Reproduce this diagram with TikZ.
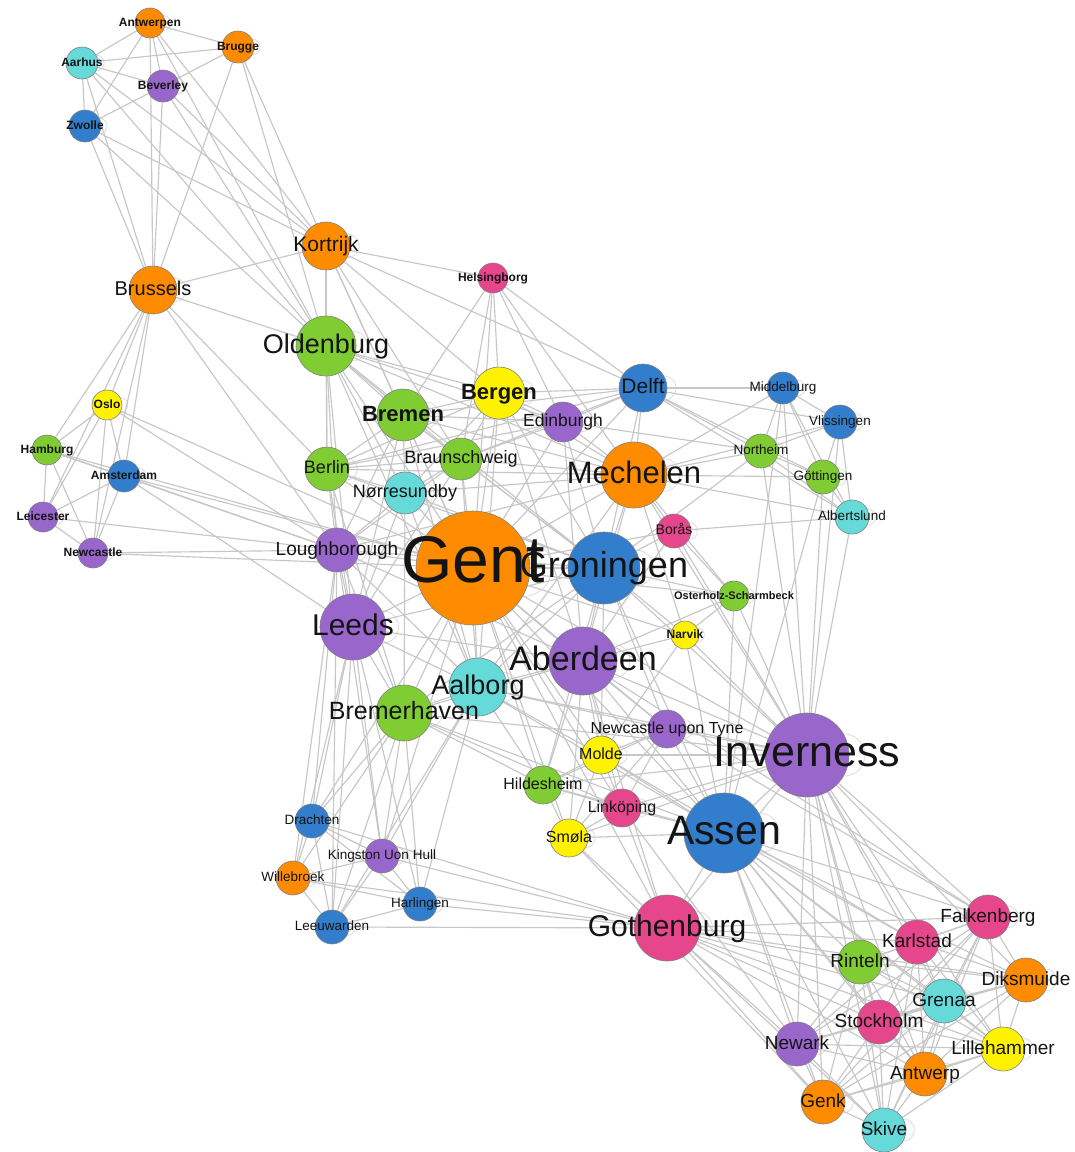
\documentclass[tikz,border=0pt]{standalone}
\usepackage{fontspec}
\setmainfont{Liberation Sans}
\pgfdeclarelayer{bg}
\pgfsetlayers{bg,main}
\definecolor{cOr}{RGB}{255,140,0}
\definecolor{cBl}{RGB}{50,126,204}
\definecolor{cPu}{RGB}{153,102,204}
\definecolor{cGr}{RGB}{127,204,51}
\definecolor{cCy}{RGB}{102,217,217}
\definecolor{cYe}{RGB}{255,242,0}
\definecolor{cPi}{RGB}{230,70,140}
\tikzset{
  city/.style={circle,draw=black!50,line width=0.6pt,inner sep=0pt},
  edge/.style={draw=black!22,line width=1.15pt},
  loopc/.style={draw=black!12,line width=0.9pt},
  lab/.style={inner sep=0pt,anchor=base,text=black!92}
}
\newcommand\nd[5]{%
  \node[city,minimum size={2*#4pt},fill=#5] (#1) at (#2,#3) {};
  \begin{pgfonlayer}{bg}\draw[loopc] ({#2+0.88*#4},#3) circle[radius={0.5*#4pt}];\end{pgfonlayer}}
\newcommand\lb[3]{\node[lab,font=\fontsize{#2}{#2}\selectfont] (#1-l) at ([yshift={-0.27*#2pt}]#1.center) {#3};}
\newcommand\lbb[3]{\node[lab,font=\fontsize{#2}{#2}\selectfont\bfseries] (#1-l) at ([yshift={-0.3*#2pt}]#1.center) {#3};}
\begin{document}
\begin{tikzpicture}[x=1pt,y=-1pt]
\begin{pgfonlayer}{bg}
\fill[white] (0,0) rectangle (1075,1152);
\end{pgfonlayer}
\useasboundingbox (0,0) rectangle (1075,1152);
% nodes
\nd{antwerpen}{150}{23}{15}{cOr}
\nd{brugge}{238}{47}{16}{cOr}
\nd{aarhus}{82}{63}{16}{cCy}
\nd{beverley}{163}{86}{16}{cPu}
\nd{zwolle}{85}{126}{16}{cBl}
\nd{kortrijk}{326}{246}{24}{cOr}
\nd{brussels}{153}{290}{24}{cOr}
\nd{oldenburg}{326}{346}{30}{cGr}
\nd{helsingborg}{493}{278}{15}{cPi}
\nd{oslo}{107}{405}{15}{cYe}
\nd{hamburg}{47}{450}{15}{cGr}
\nd{amsterdam}{124}{476}{16}{cBl}
\nd{leicester}{43}{517}{15}{cPu}
\nd{newcastle}{93}{553}{15}{cPu}
\nd{berlin}{327}{469}{22}{cGr}
\nd{loughborough}{337}{550}{22}{cPu}
\nd{bergen}{499}{393}{26}{cYe}
\nd{bremen}{403}{415}{26}{cGr}
\nd{edinburgh}{563}{422}{20}{cPu}
\nd{delft}{643}{388}{24}{cBl}
\nd{braunschweig}{461}{459}{21}{cGr}
\nd{norre}{405}{493}{21}{cCy}
\nd{mechelen}{634}{475}{33}{cOr}
\nd{boras}{674}{531}{17}{cPi}
\nd{middelburg}{783}{388}{16}{cBl}
\nd{vlissingen}{840}{422}{17}{cBl}
\nd{northeim}{761}{451}{17}{cGr}
\nd{gottingen}{823}{477}{17}{cGr}
\nd{albertslund}{852}{517}{17}{cCy}
\nd{osterholz}{734}{596}{15}{cGr}
\nd{narvik}{685}{635}{14}{cYe}
\nd{gent}{473}{568}{57}{cOr}
\nd{groningen}{604}{568}{36}{cBl}
\nd{leeds}{353}{627}{33}{cPu}
\nd{aberdeen}{583}{661}{34}{cPu}
\nd{aalborg}{478}{687}{29}{cCy}
\nd{bremerhaven}{404}{713}{28}{cGr}
\nd{nut}{667}{729}{19}{cPu}
\nd{molde}{601}{755}{19}{cYe}
\nd{hildesheim}{543}{785}{19}{cGr}
\nd{drachten}{312}{821}{17}{cBl}
\nd{kingston}{382}{856}{17}{cPu}
\nd{willebroek}{293}{878}{17}{cOr}
\nd{harlingen}{420}{904}{17}{cBl}
\nd{leeuwarden}{332}{927}{17}{cBl}
\nd{smola}{569}{838}{19}{cYe}
\nd{linkoping}{622}{808}{19}{cPi}
\nd{gothenburg}{667}{928}{33}{cPi}
\nd{inverness}{807}{755}{42}{cPu}
\nd{assen}{724}{833}{40}{cBl}
\nd{falkenberg}{988}{917}{22}{cPi}
\nd{karlstad}{917}{942}{22}{cPi}
\nd{rinteln}{860}{962}{22}{cGr}
\nd{diksmuide}{1026}{980}{22}{cOr}
\nd{grenaa}{944}{1001}{22}{cCy}
\nd{stockholm}{879}{1022}{22}{cPi}
\nd{newark}{797}{1044}{22}{cPu}
\nd{lillehammer}{1003}{1049}{22}{cYe}
\nd{antwerp}{925}{1074}{22}{cOr}
\nd{genk}{823}{1102}{22}{cOr}
\nd{skive}{884}{1130}{22}{cCy}
% edges
\begin{pgfonlayer}{bg}
\foreach \a/\b in {
antwerpen/aarhus, antwerpen/brugge, antwerpen/beverley, antwerpen/zwolle, antwerpen/brussels, antwerpen/kortrijk, antwerpen/oldenburg,
aarhus/brugge, aarhus/beverley, aarhus/zwolle, aarhus/brussels, aarhus/kortrijk, aarhus/oldenburg,
brugge/beverley, brugge/brussels, brugge/kortrijk, brugge/oldenburg,
beverley/zwolle, beverley/brussels, beverley/kortrijk, beverley/oldenburg,
zwolle/brussels, zwolle/kortrijk, zwolle/oldenburg,
brussels/kortrijk, brussels/oldenburg, brussels/oslo, brussels/hamburg, brussels/amsterdam, brussels/leicester, brussels/newcastle, brussels/loughborough, brussels/berlin,
oslo/hamburg, oslo/amsterdam, oslo/leicester, oslo/newcastle, oslo/loughborough, oslo/gent, hamburg/amsterdam, hamburg/leicester, hamburg/newcastle, hamburg/loughborough, hamburg/gent, amsterdam/leicester, amsterdam/newcastle, amsterdam/loughborough, amsterdam/gent, amsterdam/leeds, leicester/newcastle, leicester/loughborough, newcastle/loughborough, newcastle/gent,
kortrijk/oldenburg, kortrijk/helsingborg, kortrijk/delft, kortrijk/bremen, kortrijk/bergen, kortrijk/berlin, kortrijk/gent, kortrijk/braunschweig,
oldenburg/berlin, oldenburg/bremen, oldenburg/braunschweig, oldenburg/norre, oldenburg/gent, oldenburg/loughborough, oldenburg/leeds, oldenburg/bergen, oldenburg/groningen, oldenburg/aalborg, oldenburg/mechelen, oldenburg/edinburgh,
helsingborg/bergen, helsingborg/bremen, helsingborg/edinburgh, helsingborg/delft, helsingborg/gent, helsingborg/braunschweig, helsingborg/mechelen,
bergen/bremen, bergen/delft, bergen/edinburgh, bergen/gent, bergen/braunschweig, bergen/norre, bergen/groningen, bergen/mechelen, bergen/berlin, bergen/aberdeen, bergen/aalborg,
bremen/berlin, bremen/braunschweig, bremen/norre, bremen/gent, bremen/delft, bremen/loughborough, bremen/groningen, bremen/mechelen, bremen/leeds, bremen/aalborg, bremen/edinburgh,
edinburgh/delft, edinburgh/mechelen, edinburgh/gent, edinburgh/groningen, edinburgh/braunschweig, edinburgh/berlin, edinburgh/aberdeen, edinburgh/northeim,
delft/middelburg, delft/vlissingen, delft/northeim, delft/gottingen, delft/mechelen, delft/gent, delft/groningen, delft/albertslund, delft/braunschweig, delft/berlin,
middelburg/vlissingen, middelburg/northeim, middelburg/gottingen, middelburg/albertslund, middelburg/mechelen, middelburg/inverness, middelburg/assen,
vlissingen/northeim, vlissingen/gottingen, vlissingen/albertslund, vlissingen/mechelen, vlissingen/inverness,
northeim/gottingen, northeim/albertslund, northeim/mechelen, northeim/inverness, northeim/groningen,
gottingen/albertslund, gottingen/mechelen, gottingen/inverness, gottingen/assen,
albertslund/boras, albertslund/mechelen, albertslund/inverness,
mechelen/gent, mechelen/groningen, mechelen/boras, mechelen/braunschweig, mechelen/berlin, mechelen/norre, mechelen/aberdeen, mechelen/osterholz, mechelen/narvik, mechelen/inverness, mechelen/loughborough, mechelen/aalborg,
boras/groningen, boras/gent, boras/osterholz, boras/aberdeen, boras/inverness,
osterholz/groningen, osterholz/narvik, osterholz/aberdeen, osterholz/inverness, osterholz/assen, osterholz/gent,
narvik/groningen, narvik/aberdeen, narvik/gent, narvik/inverness, narvik/assen, narvik/molde,
gent/groningen, gent/leeds, gent/aberdeen, gent/aalborg, gent/bremerhaven, gent/loughborough, gent/berlin, gent/braunschweig, gent/norre, gent/nut, gent/molde, gent/hildesheim, gent/inverness, gent/assen, gent/gothenburg, gent/smola, gent/linkoping, gent/drachten, gent/kingston,
groningen/leeds, groningen/aberdeen, groningen/aalborg, groningen/bremerhaven, groningen/inverness, groningen/assen, groningen/nut, groningen/molde, groningen/loughborough, groningen/braunschweig, groningen/norre, groningen/berlin, groningen/hildesheim,
leeds/loughborough, leeds/aalborg, leeds/bremerhaven, leeds/berlin, leeds/norre, leeds/aberdeen, leeds/drachten, leeds/willebroek, leeds/leeuwarden, leeds/kingston, leeds/harlingen, leeds/braunschweig,
aberdeen/aalborg, aberdeen/bremerhaven, aberdeen/inverness, aberdeen/assen, aberdeen/nut, aberdeen/molde, aberdeen/hildesheim, aberdeen/linkoping, aberdeen/smola, aberdeen/loughborough, aberdeen/gothenburg, aberdeen/falkenberg,
aalborg/bremerhaven, aalborg/hildesheim, aalborg/molde, aalborg/inverness, aalborg/assen, aalborg/loughborough, aalborg/norre, aalborg/braunschweig, aalborg/kingston, aalborg/nut, aalborg/harlingen, aalborg/leeuwarden,
bremerhaven/loughborough, bremerhaven/drachten, bremerhaven/kingston, bremerhaven/willebroek, bremerhaven/harlingen, bremerhaven/leeuwarden, bremerhaven/hildesheim, bremerhaven/linkoping, bremerhaven/berlin, bremerhaven/norre, bremerhaven/inverness, bremerhaven/assen,
loughborough/berlin, loughborough/norre, loughborough/braunschweig, loughborough/drachten, loughborough/willebroek, loughborough/leeuwarden, loughborough/kingston,
berlin/norre, berlin/braunschweig, norre/braunschweig,
nut/molde, nut/inverness, nut/assen, nut/linkoping, nut/hildesheim, nut/smola, nut/falkenberg,
molde/hildesheim, molde/linkoping, molde/smola, molde/inverness, molde/assen, molde/karlstad,
hildesheim/smola, hildesheim/linkoping, hildesheim/assen, hildesheim/inverness,
linkoping/smola, linkoping/assen, linkoping/inverness, linkoping/gothenburg, linkoping/newark,
smola/assen, smola/gothenburg, smola/inverness, smola/genk,
drachten/kingston, drachten/willebroek, drachten/harlingen, drachten/leeuwarden, drachten/gothenburg,
kingston/willebroek, kingston/harlingen, kingston/leeuwarden, kingston/gothenburg,
willebroek/harlingen, willebroek/leeuwarden, willebroek/gothenburg,
harlingen/leeuwarden, harlingen/gothenburg, leeuwarden/gothenburg,
gothenburg/assen, gothenburg/inverness, gothenburg/falkenberg, gothenburg/karlstad, gothenburg/rinteln, gothenburg/diksmuide, gothenburg/grenaa, gothenburg/stockholm, gothenburg/newark, gothenburg/lillehammer, gothenburg/antwerp, gothenburg/genk, gothenburg/skive,
inverness/assen, inverness/falkenberg, inverness/karlstad, inverness/rinteln, inverness/diksmuide, inverness/grenaa, inverness/stockholm, inverness/newark, inverness/lillehammer, inverness/antwerp, inverness/genk, inverness/skive,
assen/falkenberg, assen/karlstad, assen/rinteln, assen/diksmuide, assen/grenaa, assen/stockholm, assen/newark, assen/lillehammer, assen/antwerp, assen/genk, assen/skive,
falkenberg/karlstad, falkenberg/rinteln, falkenberg/diksmuide, falkenberg/grenaa, falkenberg/stockholm, falkenberg/newark, falkenberg/lillehammer, falkenberg/antwerp, falkenberg/genk, falkenberg/skive,
karlstad/rinteln, karlstad/diksmuide, karlstad/grenaa, karlstad/stockholm, karlstad/newark, karlstad/lillehammer, karlstad/antwerp, karlstad/skive,
rinteln/grenaa, rinteln/stockholm, rinteln/newark, rinteln/lillehammer, rinteln/antwerp, rinteln/genk, rinteln/skive, rinteln/diksmuide,
diksmuide/grenaa, diksmuide/stockholm, diksmuide/lillehammer, diksmuide/antwerp, diksmuide/genk, diksmuide/newark,
grenaa/stockholm, grenaa/newark, grenaa/lillehammer, grenaa/antwerp, grenaa/genk, grenaa/skive,
stockholm/newark, stockholm/lillehammer, stockholm/antwerp, stockholm/genk, stockholm/skive,
newark/antwerp, newark/genk, newark/skive, newark/lillehammer,
lillehammer/antwerp, lillehammer/genk, lillehammer/skive, antwerp/genk, antwerp/skive, genk/skive}
  \draw[edge] (\a) -- (\b);
\end{pgfonlayer}
% labels
\lbb{antwerpen}{12}{Antwerpen}
\lbb{brugge}{12}{Brugge}
\lbb{aarhus}{12}{Aarhus}
\lbb{beverley}{12}{Beverley}
\lbb{zwolle}{12}{Zwolle}
\lbb{oslo}{12}{Oslo}
\lbb{hamburg}{12}{Hamburg}
\lbb{amsterdam}{12}{Amsterdam}
\lbb{leicester}{12}{Leicester}
\lbb{newcastle}{12}{Newcastle}
\lbb{helsingborg}{12}{Helsingborg}
\lbb{osterholz}{11}{Osterholz-Scharmbeck}
\lbb{narvik}{12}{Narvik}
\lb{middelburg}{13.5}{Middelburg}
\lb{vlissingen}{13.5}{Vlissingen}
\lb{northeim}{13.5}{Northeim}
\lb{gottingen}{13.5}{Göttingen}
\lb{albertslund}{13.5}{Albertslund}
\lb{drachten}{13.5}{Drachten}
\lb{kingston}{13.5}{Kingston Uon Hull}
\lb{willebroek}{13.5}{Willebroek}
\lb{harlingen}{13.5}{Harlingen}
\lb{leeuwarden}{13.5}{Leeuwarden}
\lb{boras}{14}{Borås}
\lb{nut}{16}{Newcastle upon Tyne}
\lb{molde}{16}{Molde}
\lb{hildesheim}{16}{Hildesheim}
\lb{linkoping}{16}{Linköping}
\lb{smola}{16}{Smøla}
\lb{edinburgh}{17.5}{Edinburgh}
\lb{braunschweig}{18}{Braunschweig}
\lb{berlin}{18}{Berlin}
\lb{norre}{18}{Nørresundby}
\lb{loughborough}{19}{Loughborough}
\lb{brussels}{20}{Brussels}
\lb{kortrijk}{21}{Kortrijk}
\lb{delft}{21}{Delft}
\lbb{bergen}{22}{Bergen}
\lbb{bremen}{22}{Bremen}
\lb{bremerhaven}{25}{Bremerhaven}
\lb{oldenburg}{27}{Oldenburg}
\lb{aalborg}{27}{Aalborg}
\lb{leeds}{30}{Leeds}
\lb{gothenburg}{30}{Gothenburg}
\lb{mechelen}{31}{Mechelen}
\lb{aberdeen}{34}{Aberdeen}
\lb{groningen}{36}{Groningen}
\lb{assen}{41}{Assen}
\lb{inverness}{43}{Inverness}
\node[lab,font=\fontsize{66}{66}\selectfont] (gent-l) at ([yshift=-14pt]gent.center) {Gent};
\lb{falkenberg}{19}{Falkenberg}
\lb{karlstad}{19}{Karlstad}
\lb{rinteln}{19}{Rinteln}
\lb{diksmuide}{19}{Diksmuide}
\lb{grenaa}{19}{Grenaa}
\lb{stockholm}{19}{Stockholm}
\lb{newark}{19}{Newark}
\lb{lillehammer}{19}{Lillehammer}
\lb{antwerp}{19}{Antwerp}
\lb{genk}{19}{Genk}
\lb{skive}{19}{Skive}
\end{tikzpicture}
\end{document}
